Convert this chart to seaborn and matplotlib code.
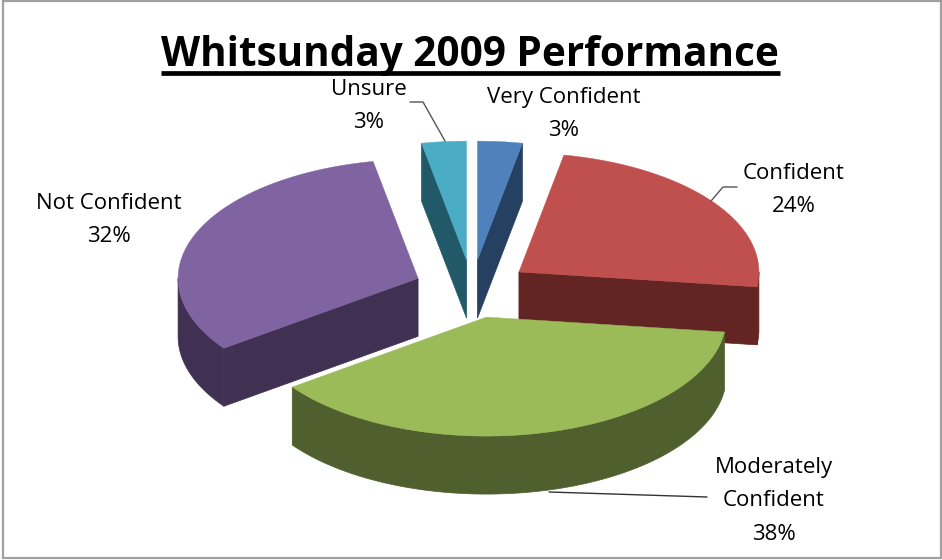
import numpy as np
import matplotlib
matplotlib.use('Agg')
import matplotlib.pyplot as plt
from matplotlib.patches import Polygon, Rectangle
import seaborn as sns

# slice data, clockwise from 12 o'clock
categories = ['Very Confident', 'Confident', 'Moderately\nConfident', 'Not Confident', 'Unsure']
values = [3, 24, 38, 32, 3]
top_colors = ['#4F81BD', '#C0504D', '#9BBB59', '#8064A2', '#4BACC6']
side_colors = ['#254061', '#632523', '#4F5F2D', '#403152', '#215968']
title_text = 'Whitsunday 2009 Performance'

# pie geometry in pixels
cx, cy = 472, 289
rx, ry = 240, 119
explode = 58
depth = 58

sns.set_theme(style='white')
plt.rcParams['font.family'] = ['Open Sans', 'DejaVu Sans']

fig, ax = plt.subplots(figsize=(9.42, 5.6), dpi=100)
ax.set_position([0, 0, 1, 1])
ax.set_xlim(0, 942)
ax.set_ylim(560, 0)
ax.axis('off')

ax.add_patch(Rectangle((3, 1), 937.5, 557, fill=False, ec='#A0A0A0', lw=1.6, zorder=1))

palette_top = sns.color_palette(top_colors)
palette_side = sns.color_palette(side_colors)


def pt(tip, ang, dz=0):
    return tip[0] + rx * np.sin(ang), tip[1] - ry * np.cos(ang) + dz


fracs = np.array(values) / sum(values)
edges = np.concatenate([[0], np.cumsum(fracs)]) * 2 * np.pi

# back slices first, green last so it sits in front
for i in [3, 4, 0, 1, 2]:
    a0, a1 = edges[i], edges[i + 1]
    mid = (a0 + a1) / 2
    tip = (cx + explode * np.sin(mid), cy - explode * 0.5 * np.cos(mid))
    arc = np.linspace(a0, a1, 120)
    top = [tip] + [pt(tip, a) for a in arc]
    side = palette_side[i]

    # radial cut faces that look towards the viewer
    for a in (a0, a1):
        if (a == a0 and np.sin(a) < 0) or (a == a1 and np.sin(a) > 0):
            e = pt(tip, a)
            e2 = pt(tip, a, depth)
            face = [tip, e, e2, (tip[0], tip[1] + depth)]
            ax.add_patch(Polygon(face, fc=side, ec=side, lw=0.5, zorder=2 + i * 0.1))

    # outer rim, lower half of the ellipse only
    lo, hi = max(a0, np.pi / 2), min(a1, 3 * np.pi / 2)
    if hi > lo:
        rim = np.linspace(lo, hi, 120)
        poly = [pt(tip, a) for a in rim] + [pt(tip, a, depth) for a in rim[::-1]]
        ax.add_patch(Polygon(poly, fc=side, ec=side, lw=0.5, zorder=2 + i * 0.1))

    ax.add_patch(Polygon(top, fc=palette_top[i], ec=palette_top[i], lw=0.3, zorder=2.05 + i * 0.1))

# labels
label_pos = [(564, 114), (794, 190), (774, 501), (109, 220), (369, 106)]
for i, (name, val) in enumerate(zip(categories, values)):
    ax.text(label_pos[i][0], label_pos[i][1], f'{name}\n{val}%', ha='center', va='center',
            fontsize=16, color='black', linespacing=1.75, zorder=5)

# leader lines
ax.plot([410, 423, 445], [102, 102, 141], color='#555555', lw=1, zorder=4)
ax.plot([737, 723, 711], [187, 187, 201], color='#555555', lw=1, zorder=4)
ax.plot([707, 549], [497, 492], color='#333333', lw=1, zorder=4)

# title with its underline
ax.text(470, 55, title_text, ha='center', va='center', fontsize=29.2, fontweight='bold',
        color='black', zorder=5)
ax.plot([161, 780], [73, 73], color='black', lw=3.4, solid_capstyle='butt', zorder=5)

fig.savefig('out.png', dpi=100)
